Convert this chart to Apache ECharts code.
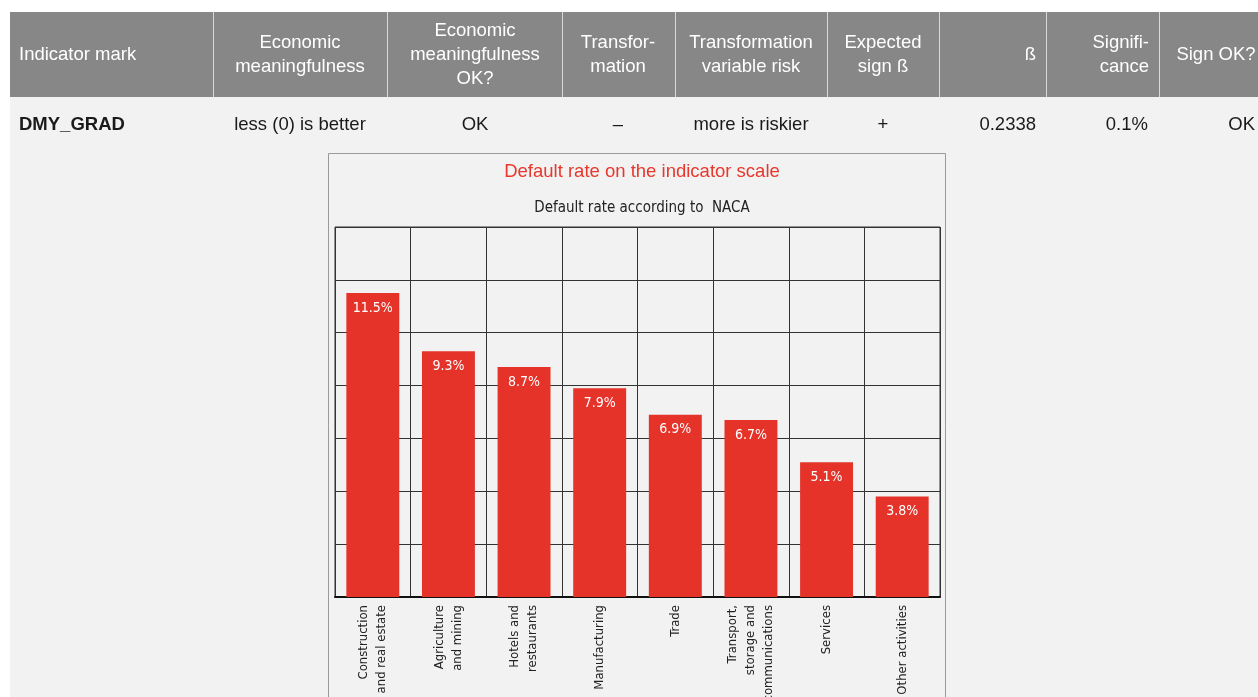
<!DOCTYPE html>
<html>
<head>
<meta charset="utf-8">
<script src="https://cdn.jsdelivr.net/npm/echarts@6/dist/echarts.min.js"></script>
<style>
  html, body { margin: 0; padding: 0; background: #ffffff; }
  #main { width: 1258px; height: 697px; }
</style>
</head>
<body>
<div id="main"></div>
<script>
// table content
var headerTexts = ['Indicator mark', 'Economic\nmeaningfulness', 'Economic\nmeaningfulness\nOK?', 'Transfor-\nmation',
    'Transformation\nvariable risk', 'Expected\nsign \u00df', '\u00df', 'Signifi-\ncance', 'Sign OK?'];
var rowTexts = ['DMY_GRAD', 'less (0) is better', 'OK', '\u2013', 'more is riskier', '+', '0.2338', '0.1%', 'OK'];

// chart data
var sectors = ['Construction\nand real estate', 'Agriculture\nand mining', 'Hotels and\nrestaurants', 'Manufacturing',
    'Trade', 'Transport,\nstorage and\ncommunications', 'Services', 'Other activities'];
var defaultRates = [11.5, 9.3, 8.7, 7.9, 6.9, 6.7, 5.1, 3.8];

var tableFont = '"Helvetica Neue", "Liberation Sans", Arial, sans-serif';
var narrowFont = '"Liberation Sans Narrow", "DejaVu Sans Condensed", "Roboto", sans-serif';

// column layout: separators, text anchor x and alignment
var separators = [213, 387, 562, 675, 827, 939, 1046, 1159];
var headX = [19, 300, 475, 618, 751, 883, 1036, 1149, 1216];
var headAlign = ['left', 'center', 'center', 'center', 'center', 'center', 'right', 'right', 'center'];
var rowX = [19, 300, 475, 618, 751, 883, 1036, 1148, 1255];
var rowAlign = ['left', 'center', 'center', 'center', 'center', 'center', 'right', 'right', 'right'];

var graphics = [];
graphics.push({ type: 'rect', z: -10, shape: { x: 10, y: 12, width: 1260, height: 85 }, style: { fill: '#878787' } });
graphics.push({ type: 'rect', z: -10, shape: { x: 10, y: 97, width: 1260, height: 620 }, style: { fill: '#f2f2f2' } });
separators.forEach(function (x) {
    graphics.push({ type: 'line', z: -9, shape: { x1: x + 0.5, y1: 12, x2: x + 0.5, y2: 97 }, style: { stroke: '#d9d9d9', lineWidth: 1 } });
});
headerTexts.forEach(function (t, i) {
    graphics.push({
        type: 'text', z: -8, x: headX[i], y: 55,
        style: { text: t, fill: '#ffffff', font: '18.5px ' + tableFont, align: headAlign[i], verticalAlign: 'middle', lineHeight: 24 }
    });
});
rowTexts.forEach(function (t, i) {
    graphics.push({
        type: 'text', z: -8, x: rowX[i], y: 125,
        style: { text: t, fill: '#1a1a1a', font: (i === 0 ? 'bold ' : '') + '18.5px ' + tableFont, align: rowAlign[i], verticalAlign: 'middle' }
    });
});
// chart frame
graphics.push({ type: 'rect', z: -7, shape: { x: 328.5, y: 153.5, width: 617, height: 600 }, style: { fill: '#f2f2f2', stroke: '#9a9a9a', lineWidth: 1 } });

var chart = echarts.init(document.getElementById('main'));
chart.setOption({
    animation: false,
    backgroundColor: '#ffffff',
    graphic: graphics,
    title: [{
        text: 'Default rate on the indicator scale',
        left: 637, top: 157, textAlign: 'center',
        textStyle: { color: '#e8372c', fontSize: 18.5, fontWeight: 'normal', fontFamily: tableFont }
    }, {
        text: 'Default rate according to  NACA',
        left: 637, top: 196, textAlign: 'center',
        textStyle: { color: '#222222', fontSize: 15, fontWeight: 'normal', fontFamily: narrowFont }
    }],
    grid: {
        left: 335, top: 227, width: 605, height: 370,
        containLabel: false, outerBoundsMode: 'none',
        show: true, borderColor: '#333333', borderWidth: 1, backgroundColor: 'transparent'
    },
    xAxis: {
        type: 'category',
        data: sectors,
        axisLine: { show: true, lineStyle: { color: '#111111', width: 2 } },
        axisTick: { show: false },
        splitLine: { show: true, interval: 0, lineStyle: { color: '#333333', width: 1 } },
        axisLabel: {
            interval: 0, rotate: 90, margin: 8,
            color: '#222222', fontSize: 13, lineHeight: 18, fontFamily: narrowFont
        }
    },
    yAxis: {
        type: 'value',
        min: 0, max: 14, interval: 2,
        axisLine: { show: false },
        axisTick: { show: false },
        axisLabel: { show: false },
        splitLine: { show: true, lineStyle: { color: '#333333', width: 1 } }
    },
    series: [{
        type: 'bar',
        data: defaultRates,
        barWidth: '70%',
        itemStyle: { color: '#e5332a' },
        label: {
            show: true, position: 'insideTop', distance: 8,
            color: '#ffffff', fontSize: 14, fontFamily: narrowFont,
            formatter: function (p) { return p.value.toFixed(1) + '%'; }
        }
    }]
});
</script>
</body>
</html>
